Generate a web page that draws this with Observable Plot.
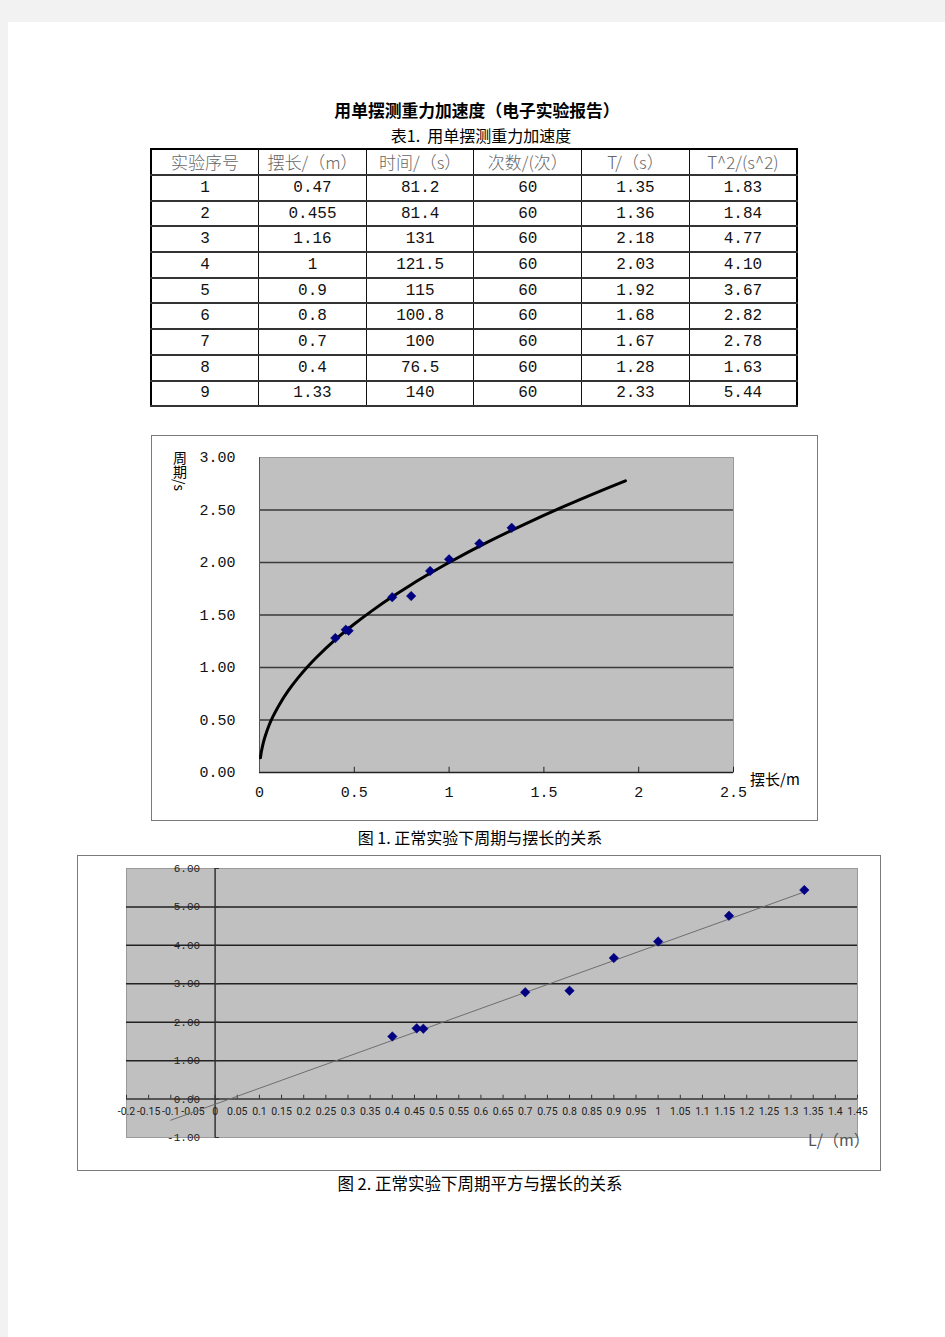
<!DOCTYPE html>
<html><head><meta charset="utf-8">
<script src="https://cdn.jsdelivr.net/npm/d3@7"></script>
<script src="https://cdn.jsdelivr.net/npm/@observablehq/plot@0.6"></script>
<style>
body{margin:0;background:#f2f2f2;width:945px;height:1337px;overflow:hidden;position:relative;font-family:"Noto Sans CJK SC",sans-serif;}
#page{position:absolute;left:8px;top:22px;width:937px;height:1315px;background:#fff;}
.abs{position:absolute;}
#title{left:0;width:954px;top:99px;text-align:center;font-size:16.8px;font-weight:bold;line-height:22px;}
#tcap{left:0;width:962px;top:124px;text-align:center;font-size:16px;line-height:22px;}
#tbl{left:150px;top:148px;width:648px;border-collapse:collapse;border:2px solid #000;table-layout:fixed;}
#tbl td{border-left:1px solid #111;border-right:1px solid #111;border-bottom:2px solid #333;text-align:center;padding:0;height:23.7px;font-family:"Liberation Mono",monospace;font-size:16px;color:#111;line-height:20px;}
#tbl tr.h td{font-family:"Noto Sans CJK SC",sans-serif;font-size:17px;color:#666;font-weight:300;height:24px;}
.frame{border:1px solid #7a7a7a;box-sizing:border-box;}
.cap{left:0;width:960px;text-align:center;font-size:16px;line-height:20px;}
</style></head><body>
<div id="page"></div>
<div class="abs" id="title">用单摆测重力加速度（电子实验报告）</div>
<div class="abs" id="tcap">表1.&nbsp; 用单摆测重力加速度</div>
<table class="abs" id="tbl"></table>
<div class="abs frame" style="left:151px;top:435px;width:667px;height:386px;"></div>
<div class="abs" id="c1" style="left:151px;top:435px;"></div>
<div class="abs" style="left:172px;top:451px;writing-mode:vertical-rl;font-size:14px;line-height:16px;">周期/s</div>
<div class="abs" style="left:750px;top:768px;font-size:15px;">摆长/m</div>
<div class="abs cap" style="top:827px;">图 1. 正常实验下周期与摆长的关系</div>
<div class="abs frame" style="left:77px;top:855px;width:804px;height:316px;"></div>
<div class="abs" id="c2" style="left:77px;top:855px;"></div>
<div class="abs" style="left:808px;top:1127px;font-size:16px;color:#555;">L/（m）</div>
<div class="abs cap" style="top:1173px;font-size:16.5px;">图 2. 正常实验下周期平方与摆长的关系</div>
<script>
// ---- data ----
const headers = ["实验序号", "摆长/（m）", "时间/（s）", "次数/(次）", "T/（s）", "T^2/(s^2)"];
const trialNo = [1, 2, 3, 4, 5, 6, 7, 8, 9];
const lengthM = [0.47, 0.455, 1.16, 1, 0.9, 0.8, 0.7, 0.4, 1.33];
const timeS = [81.2, 81.4, 131, 121.5, 115, 100.8, 100, 76.5, 140];
const counts = [60, 60, 60, 60, 60, 60, 60, 60, 60];
const periodT = [1.35, 1.36, 2.18, 2.03, 1.92, 1.68, 1.67, 1.28, 2.33];
const periodSq = [1.83, 1.84, 4.77, 4.10, 3.67, 2.82, 2.78, 1.63, 5.44];

// fitted curve of chart 1
const fitL = [0.005, 0.01, 0.02, 0.03, 0.05, 0.07, 0.1, 0.15, 0.2, 0.25, 0.3, 0.4, 0.5, 0.6, 0.7, 0.8, 0.9, 1.0, 1.2, 1.4, 1.6, 1.8, 1.93];
const fitT = [0.141, 0.2, 0.283, 0.346, 0.447, 0.529, 0.632, 0.775, 0.894, 1.0, 1.095, 1.265, 1.414, 1.549, 1.673, 1.789, 1.897, 2.0, 2.191, 2.366, 2.53, 2.683, 2.778];
const xTicks1 = [0, 0.5, 1, 1.5, 2, 2.5];
const yTicks1 = [0, 0.5, 1, 1.5, 2, 2.5, 3];

// trend line of chart 2
const trendL = [-0.1, 1.33];
const trendT2 = [-0.55, 5.39];
const xTicks2 = [-0.2, -0.15, -0.1, -0.05, 0, 0.05, 0.1, 0.15, 0.2, 0.25, 0.3, 0.35, 0.4, 0.45, 0.5, 0.55, 0.6, 0.65, 0.7, 0.75, 0.8, 0.85, 0.9, 0.95, 1, 1.05, 1.1, 1.15, 1.2, 1.25, 1.3, 1.35, 1.4, 1.45];
const yTicks2 = [-1, 0, 1, 2, 3, 4, 5, 6];

// ---- table ----
const tbl = document.getElementById("tbl");
let html = "<tr class='h'>" + headers.map(h => `<td>${h}</td>`).join("") + "</tr>";
trialNo.forEach((n, i) => {
  html += `<tr><td>${n}</td><td>${lengthM[i]}</td><td>${timeS[i]}</td><td>${counts[i]}</td><td>${periodT[i].toFixed(2)}</td><td>${periodSq[i].toFixed(2)}</td></tr>`;
});
tbl.innerHTML = html;

// ---- chart 1 ----
const pts = lengthM.map((l, i) => ({l, t: periodT[i], t2: periodSq[i]}));
const fit = fitL.map((l, i) => ({l, t: fitT[i]}));
const c1 = Plot.plot({
  width: 666, height: 385,
  marginLeft: 108, marginRight: 84, marginTop: 22, marginBottom: 48,
  style: {background: "transparent", fontFamily: "'Liberation Mono', monospace", fontSize: "15px", color: "#111"},
  x: {domain: [0, 2.5], ticks: xTicks1, tickFormat: d => String(d), tickSize: 0, tickPadding: 14, label: null},
  y: {domain: [0, 3], ticks: yTicks1, tickFormat: d3.format(".2f"), tickSize: 0, tickPadding: 24, label: null},
  marks: [
    Plot.frame({fill: "#c0c0c0", stroke: "#9a9a9a"}),
    Plot.ruleY(yTicks1.filter(d => d > 0 && d < 3), {stroke: "#3a3a3a", strokeWidth: 1.5}),
    Plot.ruleY([0], {stroke: "#222", strokeWidth: 1.5}),
    Plot.ruleX([0], {stroke: "#555"}),
    Plot.ruleX(xTicks1.filter(d => d > 0), {y1: 0, y2: 0.05, stroke: "#222"}),
    Plot.line(fit, {x: "l", y: "t", curve: "catmull-rom", stroke: "#000", strokeWidth: 3}),
    Plot.dot(pts, {x: "l", y: "t", symbol: "diamond2", fill: "#000080", stroke: "#000080", strokeWidth: 0.5, r: 4.3})
  ]
});
document.getElementById("c1").appendChild(c1);

// ---- chart 2 ----
const trend = trendL.map((l, i) => ({l, t2: trendT2[i]}));
const c2 = Plot.plot({
  width: 803, height: 315,
  marginLeft: 49, marginRight: 23, marginTop: 13, marginBottom: 33,
  style: {background: "transparent", fontFamily: "'Liberation Mono', monospace", color: "#222"},
  x: {domain: [-0.2, 1.45], axis: null},
  y: {domain: [-1, 6], axis: null},
  marks: [
    Plot.frame({fill: "#c0c0c0", stroke: "#9a9a9a"}),
    Plot.ruleY(yTicks2.filter(d => d > 0 && d < 6), {stroke: "#222", strokeWidth: 1.5}),
    Plot.ruleY([0], {stroke: "#333", strokeWidth: 1.5}),
    Plot.ruleX([0], {stroke: "#333", strokeWidth: 1.5}),
    Plot.ruleX(xTicks2, {y1: 0, y2: 0.1, stroke: "#333"}),
    Plot.ruleY(yTicks2, {x1: 0, x2: 0.01, stroke: "#333"}),
    Plot.text(yTicks2, {x: 0, y: d => d, text: d => d.toFixed(2), dx: -15, textAnchor: "end", fontSize: 11, fill: "#222"}),
    Plot.text(xTicks2, {x: d => d, y: 0, text: d => String(d), dy: 13, fontSize: 10.5, fontFamily: "Roboto, sans-serif", fill: "#222"}),
    Plot.line(trend, {x: "l", y: "t2", stroke: "#6e6e6e", strokeWidth: 1}),
    Plot.dot(pts, {x: "l", y: "t2", symbol: "diamond2", fill: "#000080", stroke: "#000080", strokeWidth: 0.5, r: 4.3})
  ]
});
document.getElementById("c2").appendChild(c2);
</script>
</body></html>
